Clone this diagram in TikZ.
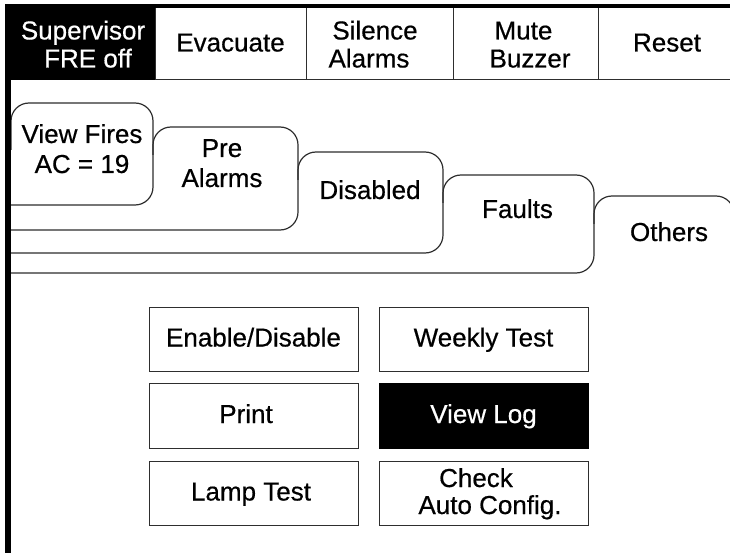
\documentclass[tikz,border=0pt]{standalone}
\usepackage{fontspec}
\setmainfont{Liberation Sans}[FakeBold=0.5]
\newcommand\tst{\rule[-6pt]{0pt}{27pt}}
\newcommand\bst{\rule[-2pt]{0pt}{2pt}}
\newcommand\tgap[1]{\leavevmode\hbox to #1{\hss}}
\newcommand\lblfont[1]{\fontsize{26}{#1}\selectfont\lineskiplimit=-100pt\relax}
\begin{document}
\begin{tikzpicture}[x=1pt,y=-1pt,
  thin/.style={draw=black!82,line width=1pt},
  cell/.style={thin,minimum height=72pt,inner sep=0pt,align=center,font={\lblfont{28}}},
  btn/.style={thin,minimum width=209pt,inner sep=0pt,align=center,font={\lblfont{27}}},
  tabline/.style={draw=black!82,line width=1.2pt,rounded corners=18pt},
  tabtext/.style={inner sep=0pt,align=center,font={\lblfont{30}}},
  solid black/.style={fill=black,draw=black,text=white}]
\useasboundingbox (0,0) rectangle (730,553);
\clip (0,0) rectangle (730,553);
\fill[white] (0,0) rectangle (730,553);
% tabs (outlines of overlapping folder tabs)
\draw[tabline] (734,300) -- (734,196) -- (594,196) -- (594,224);
\draw[tabline] (8,273) -- (594,273) -- (594,175) -- (443,175) -- (443,203);
\draw[tabline] (8,253) -- (443,253) -- (443,152) -- (298,152) -- (298,180);
\draw[tabline] (8,230) -- (298,230) -- (298,127) -- (153,127) -- (153,155);
\draw[tabline] (8,205) -- (153,205) -- (153,103) -- (11,103) -- (11,150);
\node[tabtext] (tfires) at (82,150.5) {\tst View Fires\\AC = 19\tst};
\node[tabtext] (tpre) at (222,164.5) {\tst Pre\\Alarms\tst};
\node[tabtext] (tdis) at (370,191.5) {\tst Disabled};
\node[tabtext] (tfault) at (517.5,210.5) {\tst Faults};
\node[tabtext] (tother) at (669,233.5) {\tst Others};
% top row of keys
\node[cell,solid black,minimum width=150pt] (sup) at (80,44) {\tgap{6pt}\tst Supervisor\\\tgap{16pt}FRE off\bst};
\node[cell,minimum width=151pt] (evac) at (230.5,44) {\tst Evacuate};
\node[cell,minimum width=147pt] (sil) at (379.5,44) {\tst Silence\tgap{9pt}\\Alarms\tgap{21pt}\bst};
\node[cell,minimum width=145pt] (mute) at (525.5,44) {\tst Mute\tgap{4pt}\\\tgap{9pt}Buzzer\bst};
\node[cell,minimum width=142pt] (reset) at (669,44) {\tst Reset\tgap{4pt}};
% frame
\fill[black] (5,4) rectangle (730,8);
\fill[black] (5,4) rectangle (11,553);
% buttons
\node[btn,minimum height=64pt] (enable) at (253.5,339) {\tst Enable/Disable};
\node[btn,minimum height=64pt] (weekly) at (483.5,339) {\tst Weekly Test};
\node[btn,minimum height=65pt] (print) at (253.5,415.5) {\tst Print\tgap{15pt}};
\node[btn,minimum height=65pt,solid black] (viewlog) at (483.5,415.5) {\tst View Log};
\node[btn,minimum height=64pt] (lamp) at (253.5,493) {\tst Lamp Test\tgap{5pt}};
\node[btn,minimum height=64pt] (check) at (483.5,493) {\tst Check\tgap{15pt}\\\tgap{13pt}Auto Config.\tst};
\end{tikzpicture}
\end{document}
